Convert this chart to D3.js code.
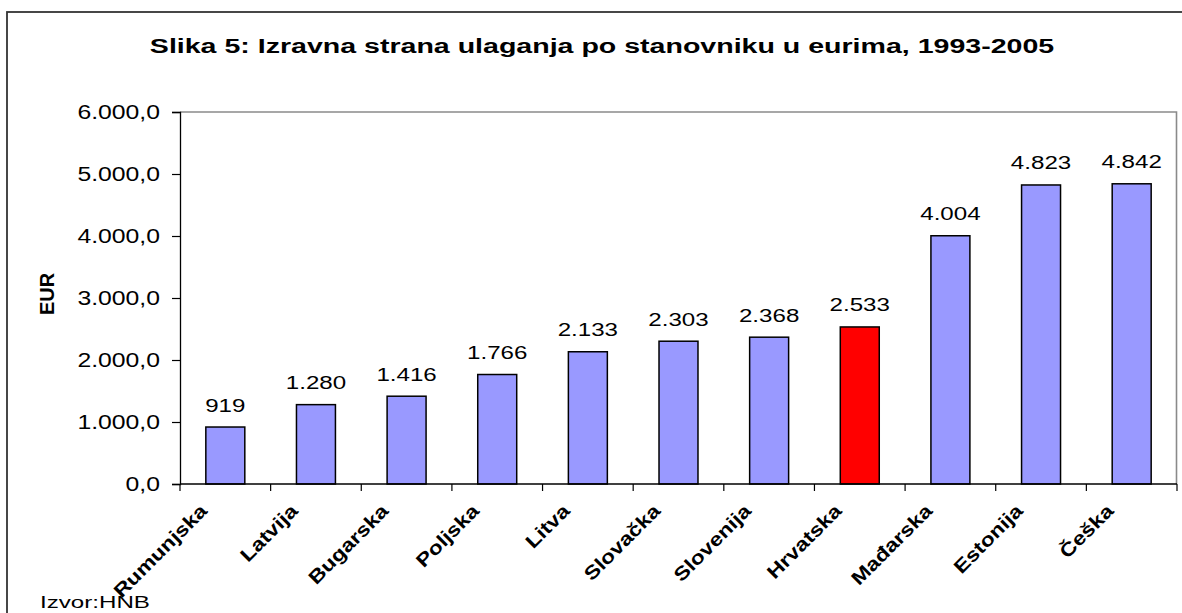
<!DOCTYPE html>
<html>
<head>
<meta charset="utf-8">
<script src="https://cdn.jsdelivr.net/npm/d3@7"></script>
<style>
  body { margin: 0; background: #fff; }
  svg { display: block; font-family: "Liberation Sans", Arial, sans-serif; }
</style>
</head>
<body>
<div id="chart"></div>
<script>
// data
const countries = ["Rumunjska", "Latvija", "Bugarska", "Poljska", "Litva", "Slovačka",
                   "Slovenija", "Hrvatska", "Mađarska", "Estonija", "Češka"];
const values = [919, 1280, 1416, 1766, 2133, 2303, 2368, 2533, 4004, 4823, 4842];
const yTicks = [0, 1000, 2000, 3000, 4000, 5000, 6000];
const highlight = "Hrvatska";
const titleText = "Slika 5: Izravna strana ulaganja po stanovniku u eurima, 1993-2005";
const yLabel = "EUR";
const sourceText = "Izvor:HNB";

var width = 1182, height = 613;
var margin = {top: 112, right: 5, bottom: 129, left: 180};
var stretch = 1.27;   // the original text is drawn wide

var hr = d3.formatLocale({decimal: ",", thousands: ".", grouping: [3], currency: ["", ""]});
var fmtAxis = hr.format(",.1f");
var fmtLabel = hr.format(",.0f");

var svg = d3.select("#chart").append("svg")
    .attr("width", width)
    .attr("height", height);

// outer chart frame
svg.append("rect")
    .attr("x", 7).attr("y", 12)
    .attr("width", 1300).attr("height", 700)
    .attr("fill", "#fff")
    .attr("stroke", "#333")
    .attr("stroke-width", 1.8);

var x = d3.scaleBand()
    .domain(countries)
    .range([margin.left, width - margin.right])
    .paddingInner(0.57)
    .paddingOuter(0.285);

var y = d3.scaleLinear()
    .domain([0, 6000])
    .range([height - margin.bottom, margin.top]);

// places a text at (px,py), rotated, and widened along its baseline
function place(sel, px, py, rot, sx) {
  sel.attr("transform", `translate(${px},${py}) rotate(${rot || 0}) scale(${sx || stretch},1)`);
}
// widen a text so that it covers a given width
function fit(sel, px, py, w) {
  var len = sel.node().getComputedTextLength();
  place(sel, px, py, 0, w / len);
}

// plot area border (top & right)
svg.append("path")
    .attr("d", `M${margin.left},${y(6000)}H${width - margin.right - 0.5}V${y(0)}`)
    .attr("fill", "none")
    .attr("stroke", "#8a8a8a")
    .attr("stroke-width", 1.6);

// bars
svg.append("g")
  .selectAll("rect")
  .data(countries)
  .enter().append("rect")
    .attr("x", d => x(d))
    .attr("y", (d, i) => y(values[i]))
    .attr("width", x.bandwidth())
    .attr("height", (d, i) => y(0) - y(values[i]))
    .attr("fill", d => d === highlight ? "#ff0000" : "#9999ff")
    .attr("stroke", "#000")
    .attr("stroke-width", 1.5);

// value labels
svg.append("g")
  .selectAll("text")
  .data(countries)
  .enter().append("text")
    .attr("text-anchor", "middle")
    .attr("font-size", 19)
    .attr("fill", "#000")
    .text((d, i) => fmtLabel(values[i]))
    .each(function(d, i) {
      place(d3.select(this), x(d) + x.bandwidth() / 2, y(values[i]) - 15.5);
    });

// y axis
var yAxis = svg.append("g")
    .attr("transform", `translate(${margin.left},0)`)
    .call(d3.axisLeft(y).tickValues(yTicks).tickSize(8).tickFormat(""));
yAxis.select(".domain").attr("stroke", "#000").attr("stroke-width", 1.3);
yAxis.selectAll(".tick line").attr("stroke", "#000").attr("stroke-width", 1.2);

svg.append("g")
  .selectAll("text")
  .data(yTicks)
  .enter().append("text")
    .attr("text-anchor", "end")
    .attr("font-size", 19.5)
    .attr("fill", "#000")
    .text(d => fmtAxis(d))
    .each(function(d) { place(d3.select(this), 160, y(d) + 7); });

// x axis: ticks sit between the categories
var xAxis = svg.append("g")
    .attr("transform", `translate(0,${y(0)})`);
xAxis.append("line")
    .attr("x1", margin.left).attr("x2", width - margin.right)
    .attr("stroke", "#000").attr("stroke-width", 1.3);
xAxis.selectAll(".xt")
  .data(d3.range(countries.length + 1))
  .enter().append("line")
    .attr("class", "xt")
    .attr("x1", i => margin.left + i * x.step())
    .attr("x2", i => margin.left + i * x.step())
    .attr("y1", 0).attr("y2", 7)
    .attr("stroke", "#000").attr("stroke-width", 1.2);

svg.append("g")
  .selectAll("text")
  .data(countries)
  .enter().append("text")
    .attr("text-anchor", "end")
    .attr("font-size", 19)
    .attr("font-weight", "bold")
    .attr("fill", "#000")
    .text(d => d)
    .each(function(d) {
      place(d3.select(this), x(d) + x.bandwidth() / 2 - 17, y(0) + 28, -45, 1.2);
    });

// title
svg.append("text")
    .attr("text-anchor", "middle")
    .attr("font-size", 20)
    .attr("font-weight", "bold")
    .attr("fill", "#000")
    .text(titleText)
    .call(fit, 602, 53, 905);

// y axis title
svg.append("text")
    .attr("text-anchor", "middle")
    .attr("font-size", 20)
    .attr("font-weight", "bold")
    .attr("fill", "#000")
    .attr("transform", "translate(54,294) rotate(-90)")
    .text(yLabel);

// source
svg.append("text")
    .attr("font-size", 16.5)
    .attr("fill", "#000")
    .text(sourceText)
    .call(fit, 40, 607.5, 110);
</script>
</body>
</html>
